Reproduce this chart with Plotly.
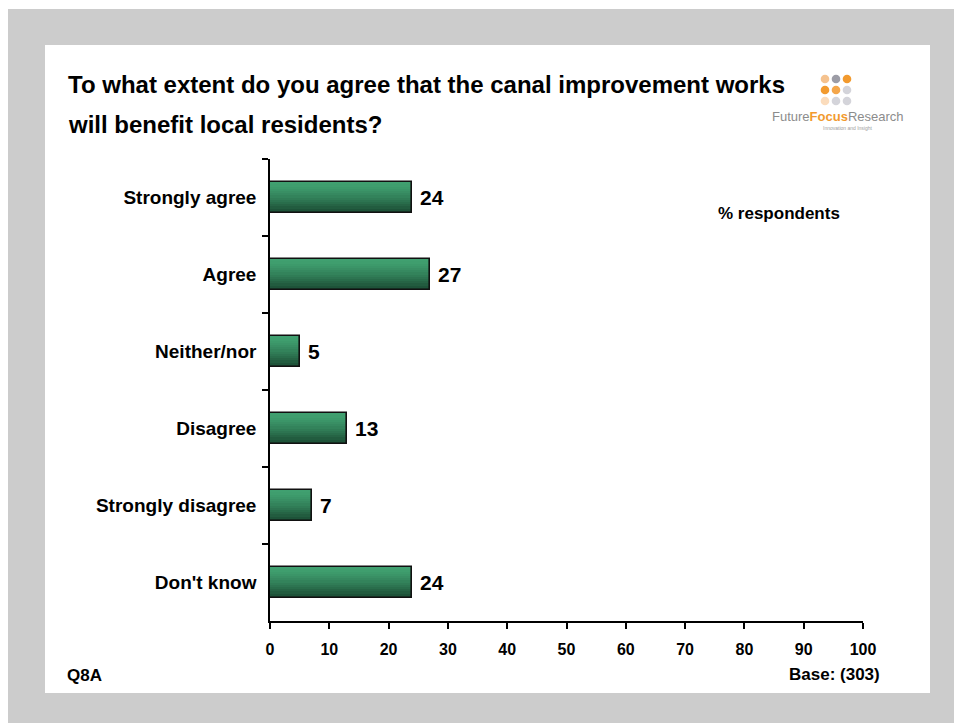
import plotly.graph_objects as go

# Survey responses (% respondents)
categories = ["Strongly agree", "Agree", "Neither/nor", "Disagree", "Strongly disagree", "Don't know"]
values = [24, 27, 5, 13, 7, 24]
x_ticks = [0, 10, 20, 30, 40, 50, 60, 70, 80, 90, 100]

title_lines = ["To what extent do you agree that the canal improvement works",
               "will benefit local residents?"]
unit_note = "% respondents"
question_code = "Q8A"
base_note = "Base: (303)"

W, H = 954, 723
L, R, T, B = 270, 863, 159, 621  # plot area in pixels

FONT = "Liberation Sans, Arial, Helvetica, sans-serif"


def px(x):
    return (x - L) / (R - L)


def py(y):
    return (B - y) / (B - T)


fig = go.Figure()

# Bars with a vertical green gradient built from thin stacked strips
n_strips = 14
bar_w = 0.40
top_rgb = (64, 160, 112)
bot_rgb = (26, 74, 50)
strip = bar_w / n_strips
for i in range(n_strips):
    f = i / (n_strips - 1)
    f = f ** 1.4
    c = tuple(round(top_rgb[k] + (bot_rgb[k] - top_rgb[k]) * f) for k in range(3))
    w = strip * 1.35 if i < n_strips - 1 else strip
    fig.add_trace(go.Bar(
        y=categories, x=values, orientation="h",
        width=w, offset=-bar_w / 2 + i * strip,
        marker=dict(color="rgb(%d,%d,%d)" % c, line=dict(width=0)),
        hoverinfo="skip", showlegend=False,
    ))

# Black outline on top
fig.add_trace(go.Bar(
    y=categories, x=values, orientation="h",
    width=bar_w, offset=-bar_w / 2,
    marker=dict(color="rgba(0,0,0,0)", line=dict(color="#111111", width=1.6)),
    showlegend=False,
))

annotations = []
for cat, v in zip(categories, values):
    annotations.append(dict(
        x=v, y=cat, xref="x", yref="y", text=str(v), showarrow=False,
        xanchor="left", yanchor="middle", xshift=6,
        font=dict(family=FONT, size=21, color="#000000", weight="bold"),
    ))

annotations += [
    dict(x=px(66), y=py(85), xref="paper", yref="paper", text=title_lines[0],
         showarrow=False, xanchor="left", yanchor="middle",
         font=dict(family=FONT, size=24, color="#000000", weight="bold")),
    dict(x=px(66), y=py(124), xref="paper", yref="paper", text=title_lines[1],
         showarrow=False, xanchor="left", yanchor="middle",
         font=dict(family=FONT, size=24, color="#000000", weight="bold")),
    dict(x=px(779), y=py(213), xref="paper", yref="paper", text=unit_note,
         showarrow=False, xanchor="center", yanchor="middle",
         font=dict(family=FONT, size=17, color="#000000", weight="bold")),
    dict(x=px(65), y=py(675), xref="paper", yref="paper", text=question_code,
         showarrow=False, xanchor="left", yanchor="middle",
         font=dict(family=FONT, size=17, color="#000000", weight="bold")),
    dict(x=px(882), y=py(674), xref="paper", yref="paper", text=base_note,
         showarrow=False, xanchor="right", yanchor="middle",
         font=dict(family=FONT, size=17, color="#000000", weight="bold")),
    # company logo wordmark
    dict(x=px(770), y=py(116), xref="paper", yref="paper",
         text="<span style='color:#8c8c8c'>Future</span>"
              "<span style='color:#f29a2e'><b>Focus</b></span>"
              "<span style='color:#8c8c8c'>Research</span>",
         showarrow=False, xanchor="left", yanchor="middle",
         font=dict(family=FONT, size=13, color="#8c8c8c")),
    dict(x=px(848), y=py(128), xref="paper", yref="paper", text="Innovation and Insight",
         showarrow=False, xanchor="center", yanchor="middle",
         font=dict(family=FONT, size=5, color="#a0a0a0")),
]

shapes = [
    dict(type="rect", xref="paper", yref="paper", x0=px(8), x1=px(954), y0=py(9), y1=py(723),
         fillcolor="#cccccc", line=dict(width=0), layer="below"),
    dict(type="rect", xref="paper", yref="paper", x0=px(45), x1=px(930), y0=py(45), y1=py(693),
         fillcolor="#ffffff", line=dict(width=0), layer="below"),
]

# Logo dot grid
dot_cols = [825, 836, 847]
dot_rows = [79, 90, 101]
dot_colors = [["#f5c28e", "#9c9ca6", "#f29a2e"],
              ["#f29a2e", "#f4a64a", "#d4d4da"],
              ["#fbdcbc", "#d4d4da", "#d4d4da"]]
r = 4.3
for ri, yy in enumerate(dot_rows):
    for ci, xx in enumerate(dot_cols):
        shapes.append(dict(type="circle", xref="paper", yref="paper",
                           x0=px(xx - r), x1=px(xx + r), y0=py(yy + r), y1=py(yy - r),
                           fillcolor=dot_colors[ri][ci], line=dict(width=0)))

fig.update_layout(
    width=W, height=H,
    margin=dict(l=L, r=W - R, t=T, b=H - B, pad=0),
    paper_bgcolor="#ffffff", plot_bgcolor="rgba(0,0,0,0)",
    barmode="overlay", bargap=0,
    showlegend=False,
    annotations=annotations, shapes=shapes,
    xaxis=dict(range=[0, 100], tickvals=x_ticks, ticks="outside", ticklen=6, tickwidth=1.5,
               tickcolor="#000000", showline=True, linecolor="#000000", linewidth=1.5,
               showgrid=False, zeroline=False, ticklabelstandoff=7,
               tickfont=dict(family=FONT, size=16, color="#000000", weight="bold")),
    yaxis=dict(categoryorder="array", categoryarray=categories, autorange="reversed",
               tickson="boundaries", ticks="outside", ticklen=6, tickwidth=1.5,
               tickcolor="#000000", showline=True, linecolor="#000000", linewidth=1.5,
               showgrid=False, zeroline=False, ticklabelstandoff=8,
               tickfont=dict(family=FONT, size=19, color="#000000", weight="bold")),
)

fig.write_html("out.html")
